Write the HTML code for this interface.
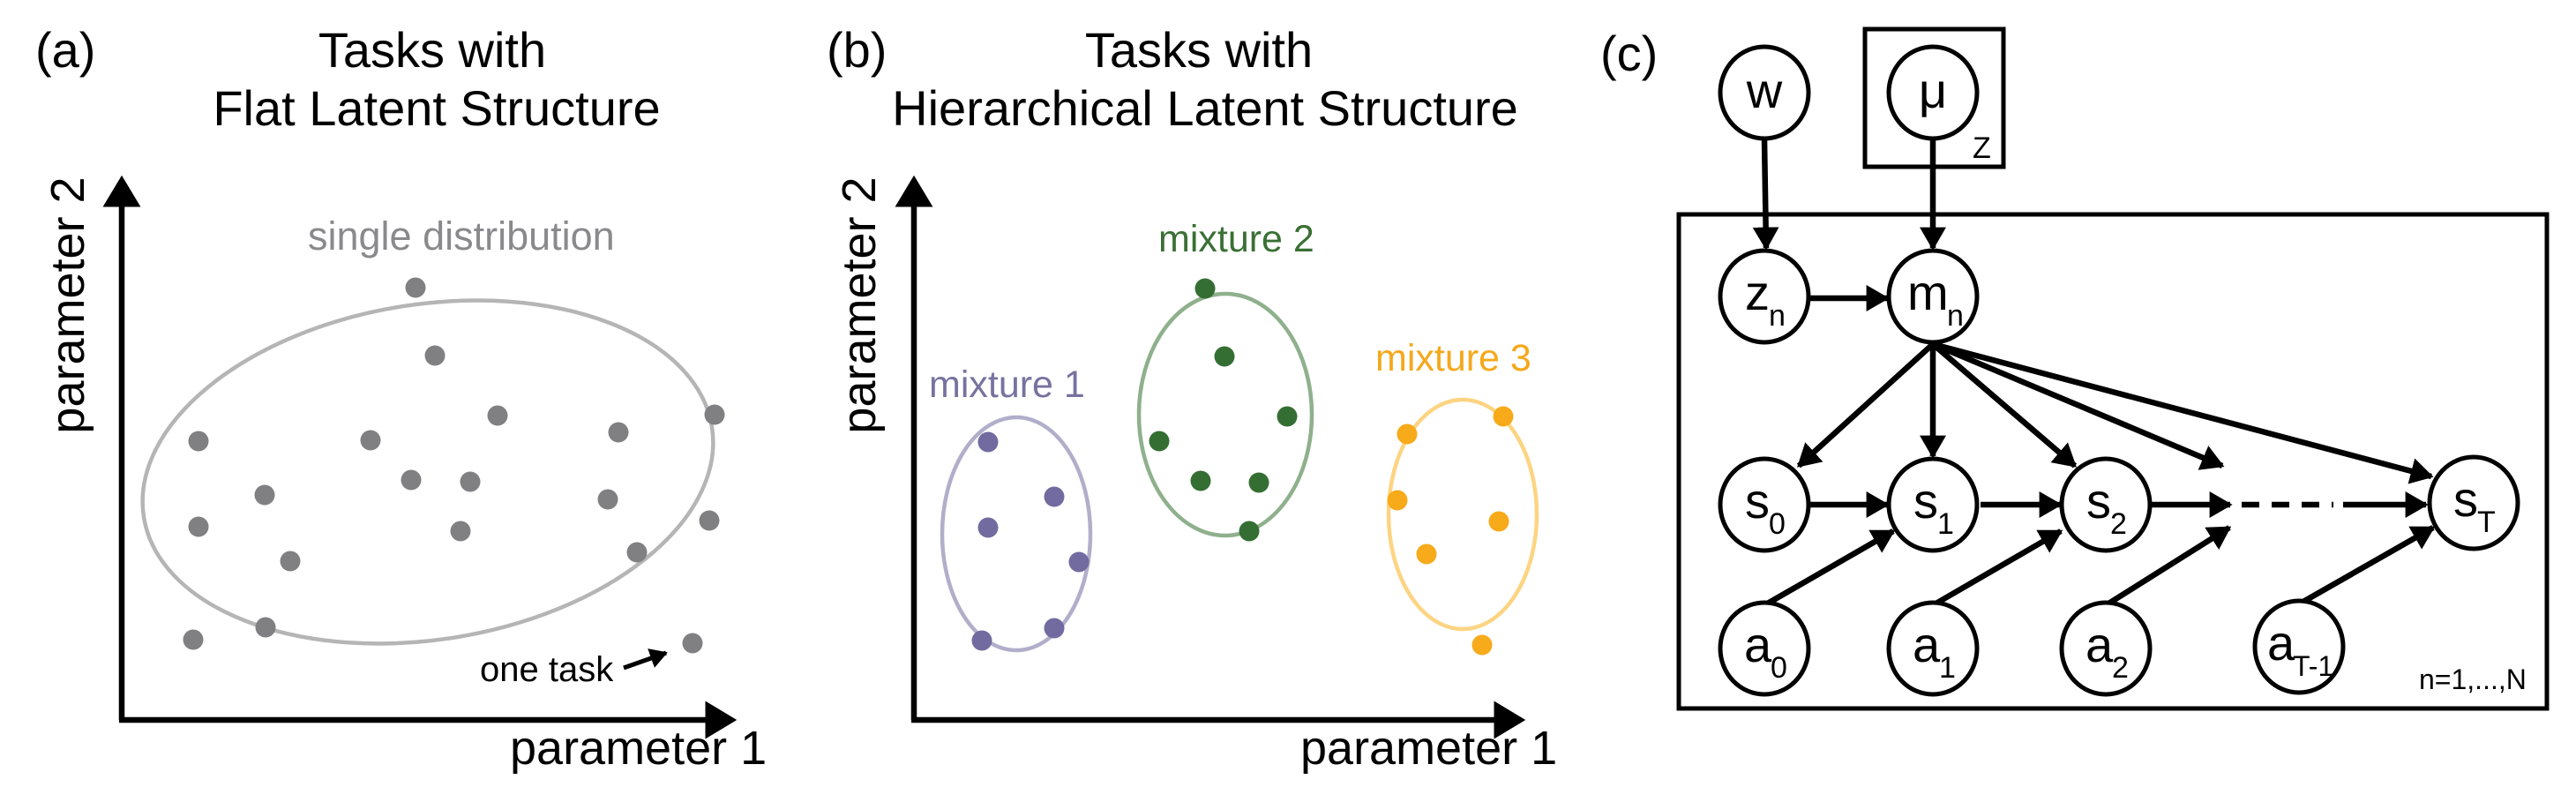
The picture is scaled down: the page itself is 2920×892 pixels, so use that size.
<!DOCTYPE html>
<html><head><meta charset="utf-8"><style>
html,body{margin:0;padding:0;background:#fff;}
svg{display:block;}
text{font-family:"Liberation Sans",sans-serif;}
</style></head><body>
<svg width="2920" height="892" viewBox="0 0 2920 892" xmlns="http://www.w3.org/2000/svg">
<defs>
<marker id="ah" markerWidth="5" markerHeight="5" refX="3.6" refY="2.3" orient="auto" markerUnits="strokeWidth">
<path d="M0,0 L4,2.3 L0,4.6 Z" fill="#000"/>
</marker>
<marker id="ax" markerWidth="7" markerHeight="7" refX="1" refY="3.3" orient="auto" markerUnits="strokeWidth">
<path d="M0,0 L5.5,3.3 L0,6.6 Z" fill="#000"/>
</marker>
</defs>

<!-- Panel a -->
<text x="40" y="76" font-size="56">(a)</text>
<text x="490" y="76" font-size="56" text-anchor="middle">Tasks with</text>
<text x="495" y="142" font-size="56" text-anchor="middle">Flat Latent Structure</text>
<polyline points="138,816 138,228" stroke="#000" stroke-width="6.5" fill="none" marker-end="url(#ax)"/>
<polyline points="135,816 806,816" stroke="#000" stroke-width="6.5" fill="none" marker-end="url(#ax)"/>
<text transform="translate(95,346) rotate(-90)" font-size="54" text-anchor="middle">parameter 2</text>
<text x="578" y="866" font-size="54">parameter 1</text>
<ellipse cx="485" cy="535" rx="326" ry="190" transform="rotate(-9 485 535)" fill="none" stroke="#b5b5b5" stroke-width="4.5"/>
<text x="349" y="283" font-size="45" fill="#8a8a8d">single distribution</text>
<g fill="#808083">
<circle cx="471" cy="326" r="11.5"/><circle cx="493" cy="403" r="11.5"/><circle cx="564" cy="471" r="11.5"/>
<circle cx="810" cy="470" r="11.5"/><circle cx="701" cy="490" r="11.5"/><circle cx="225" cy="500" r="11.5"/>
<circle cx="420" cy="499" r="11.5"/><circle cx="466" cy="544" r="11.5"/><circle cx="533" cy="546" r="11.5"/>
<circle cx="300" cy="561" r="11.5"/><circle cx="689" cy="566" r="11.5"/><circle cx="225" cy="597" r="11.5"/>
<circle cx="522" cy="602" r="11.5"/><circle cx="804" cy="590" r="11.5"/><circle cx="329" cy="636" r="11.5"/>
<circle cx="722" cy="626" r="11.5"/><circle cx="301" cy="711" r="11.5"/><circle cx="219" cy="725" r="11.5"/>
<circle cx="785" cy="729" r="11.5"/>
</g>
<text x="544" y="772" font-size="40">one task</text>
<line x1="707" y1="757" x2="755" y2="740" stroke="#000" stroke-width="5" marker-end="url(#ah)"/>

<!-- Panel b -->
<text x="937" y="76" font-size="56">(b)</text>
<text x="1359" y="76" font-size="56" text-anchor="middle">Tasks with</text>
<text x="1366" y="142" font-size="56" text-anchor="middle">Hierarchical Latent Structure</text>
<polyline points="1036,816 1036,228" stroke="#000" stroke-width="6.5" fill="none" marker-end="url(#ax)"/>
<polyline points="1033,816 1700,816" stroke="#000" stroke-width="6.5" fill="none" marker-end="url(#ax)"/>
<text transform="translate(992,346) rotate(-90)" font-size="54" text-anchor="middle">parameter 2</text>
<text x="1474" y="866" font-size="54">parameter 1</text>
<ellipse cx="1152" cy="605" rx="84" ry="132" fill="none" stroke="#b1aeca" stroke-width="4.5"/>
<ellipse cx="1389" cy="470" rx="98" ry="137" fill="none" stroke="#8fb08c" stroke-width="4.5"/>
<ellipse cx="1658" cy="583" rx="84" ry="130" fill="none" stroke="#fdd482" stroke-width="4.5"/>
<text x="1053" y="450" font-size="43" fill="#77729f">mixture 1</text>
<text x="1313" y="285" font-size="43" fill="#3a7034">mixture 2</text>
<text x="1559" y="420" font-size="43" fill="#f5a81c">mixture 3</text>
<g fill="#716b9f">
<circle cx="1120" cy="501" r="11.5"/><circle cx="1195" cy="563" r="11.5"/><circle cx="1120" cy="598" r="11.5"/>
<circle cx="1223" cy="637" r="11.5"/><circle cx="1113" cy="726" r="11.5"/><circle cx="1195" cy="712" r="11.5"/>
</g>
<g fill="#356e33">
<circle cx="1366" cy="327" r="11.5"/><circle cx="1388" cy="404" r="11.5"/><circle cx="1459" cy="472" r="11.5"/>
<circle cx="1314" cy="500" r="11.5"/><circle cx="1361" cy="545" r="11.5"/><circle cx="1427" cy="547" r="11.5"/>
<circle cx="1416" cy="602" r="11.5"/>
</g>
<g fill="#f7aa1a">
<circle cx="1704" cy="472" r="11.5"/><circle cx="1595" cy="492" r="11.5"/><circle cx="1584" cy="567" r="11.5"/>
<circle cx="1699" cy="591" r="11.5"/><circle cx="1617" cy="628" r="11.5"/><circle cx="1680" cy="731" r="11.5"/>
</g>

<!-- Panel c -->
<text x="1814" y="80" font-size="56">(c)</text>
<rect x="2114" y="33" width="157" height="156" fill="none" stroke="#000" stroke-width="5"/>
<text x="2236" y="179" font-size="34">Z</text>
<rect x="1903" y="243" width="984" height="560" fill="none" stroke="#000" stroke-width="5"/>
<text x="2742" y="781" font-size="32">n=1,...,N</text>

<g stroke="#000" stroke-width="6.5" fill="none" marker-end="url(#ah)">
<line x1="2000" y1="158" x2="2002" y2="281"/>
<line x1="2191" y1="158" x2="2191" y2="281"/>
<line x1="2051" y1="338" x2="2139" y2="338"/>
<line x1="2191" y1="390" x2="2039" y2="528"/>
<line x1="2191" y1="390" x2="2191" y2="517"/>
<line x1="2191" y1="390" x2="2352" y2="528"/>
<line x1="2191" y1="390" x2="2519" y2="528"/>
<line x1="2191" y1="390" x2="2756" y2="540"/>
<line x1="2050" y1="572" x2="2139" y2="572"/>
<line x1="2245" y1="572" x2="2335" y2="572"/>
<line x1="2439" y1="572" x2="2528" y2="572"/>
<line x1="2656" y1="572" x2="2750" y2="572"/>
<line x1="2000" y1="686" x2="2146" y2="602"/>
<line x1="2191" y1="686" x2="2336" y2="602"/>
<line x1="2387" y1="686" x2="2527" y2="598"/>
<line x1="2609" y1="683" x2="2758" y2="598"/>
</g>
<line x1="2541" y1="572" x2="2645" y2="572" stroke="#000" stroke-width="6.5" stroke-dasharray="20,14"/>

<g fill="#fff" stroke="#000" stroke-width="5">
<ellipse cx="2000" cy="105" rx="50" ry="52"/>
<ellipse cx="2191" cy="105" rx="50" ry="52"/>
<ellipse cx="2000" cy="336" rx="50" ry="52"/>
<ellipse cx="2191" cy="336" rx="50" ry="52"/>
<ellipse cx="2000" cy="572" rx="50" ry="52"/>
<ellipse cx="2191" cy="572" rx="50" ry="52"/>
<ellipse cx="2387" cy="572" rx="50" ry="52"/>
<ellipse cx="2804" cy="570" rx="50" ry="52"/>
<ellipse cx="2000" cy="735" rx="50" ry="52"/>
<ellipse cx="2191" cy="735" rx="50" ry="52"/>
<ellipse cx="2387" cy="735" rx="50" ry="52"/>
<ellipse cx="2606" cy="733" rx="50" ry="52"/>
</g>
<g font-size="56">
<text x="2000" y="122" text-anchor="middle">w</text>
<text x="2191" y="122" text-anchor="middle">μ</text>
<text x="1978" y="351">z</text><text x="2005" y="369" font-size="34">n</text>
<text x="2162" y="351">m</text><text x="2207" y="369" font-size="34">n</text>
<text x="1978" y="587">s</text><text x="2005" y="605" font-size="34">0</text>
<text x="2169" y="587">s</text><text x="2196" y="605" font-size="34">1</text>
<text x="2365" y="587">s</text><text x="2392" y="605" font-size="34">2</text>
<text x="2781" y="585">s</text><text x="2808" y="603" font-size="34">T</text>
<text x="1977" y="750">a</text><text x="2007" y="768" font-size="34">0</text>
<text x="2168" y="750">a</text><text x="2198" y="768" font-size="34">1</text>
<text x="2364" y="750">a</text><text x="2394" y="768" font-size="34">2</text>
<text x="2570" y="748">a</text><text x="2599" y="766" font-size="32">T-1</text>
</g>
</svg>
</body></html>
